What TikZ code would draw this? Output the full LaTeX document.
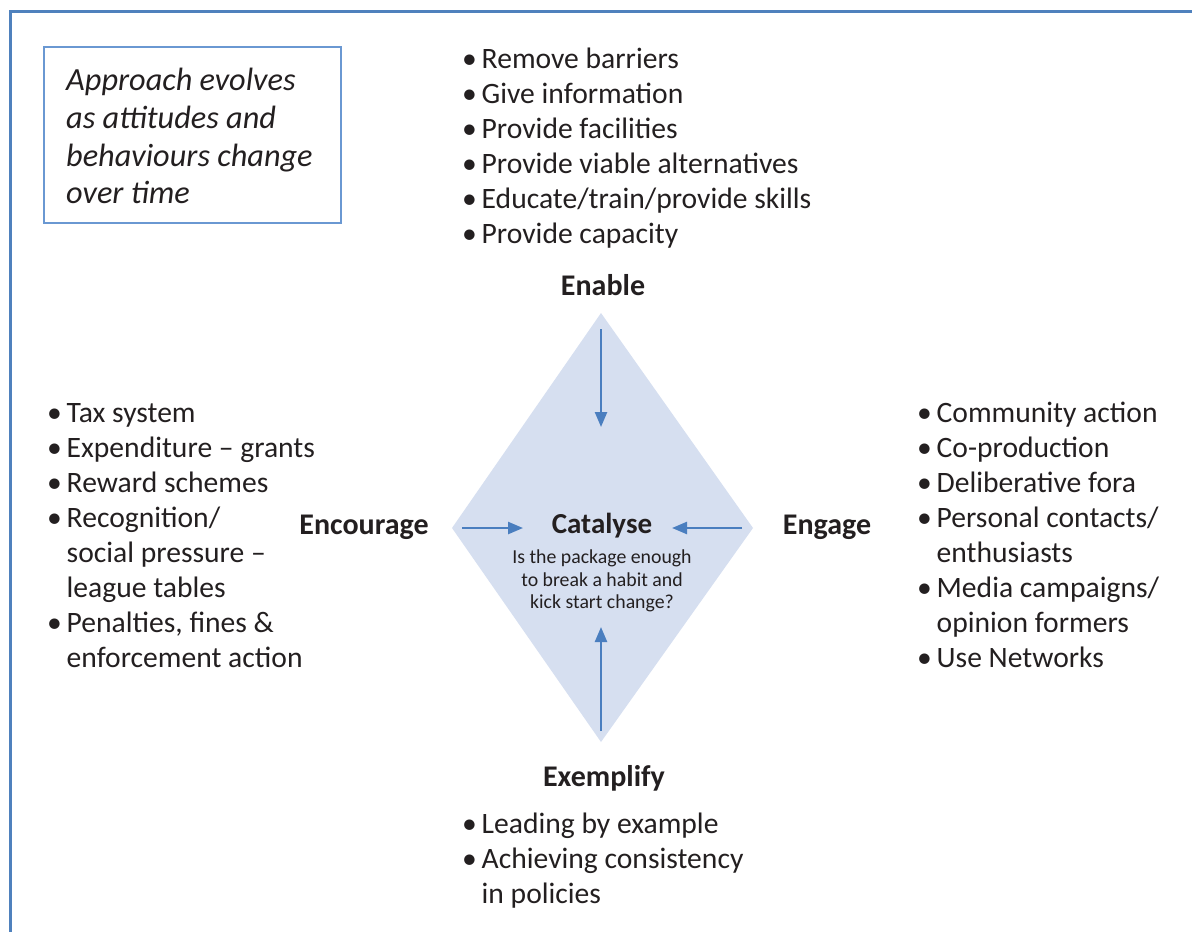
\documentclass[tikz,border=0pt]{standalone}
\usepackage{fontspec}
\setmainfont{Carlito}
\usetikzlibrary{arrows.meta}
\definecolor{ink}{HTML}{231F20}
\definecolor{frameblue}{HTML}{4F81BD}
\definecolor{boxblue}{HTML}{6A98D2}
\definecolor{diafill}{HTML}{D6DFF0}
\definecolor{arrowblue}{HTML}{4A7EBF}
\newcommand{\bul}{\makebox[19.5pt][l]{\textbullet}}
\begin{document}
\begin{tikzpicture}[x=1pt,y=-1pt,
  item/.style={font=\fontsize{29.6}{35}\selectfont, text=ink, inner sep=0pt, anchor=base west},
  head/.style={font=\fontsize{30}{35}\selectfont\bfseries, text=ink, inner sep=0pt, anchor=base},
  sub/.style={font=\fontsize{19.8}{23}\selectfont, text=ink, inner sep=0pt, anchor=base},
  note/.style={font=\fontsize{32.3}{38}\selectfont\itshape, text=ink, inner sep=0pt, anchor=base west},
  flow/.style={draw=arrowblue, line width=2.4pt, -{Triangle[length=15pt,width=12pt]}}]
\useasboundingbox (0,0) rectangle (1192,932);

% outer frame (only top and left edges fall inside the page)
\draw[frameblue, line width=3pt] (1200,11) -- (10,11) -- (10,940);

% note box
\draw[boxblue, line width=1.3pt] (44,47) rectangle (341,223);
\node[note] (n1) at (66,90)  {Approach evolves};
\node[note] (n2) at (66,128) {as attitudes and};
\node[note] (n3) at (66,166) {behaviours change};
\node[note] (n4) at (66,203) {over time};

% central diamond
\coordinate (dT) at (601,313);
\coordinate (dR) at (753,528);
\coordinate (dB) at (601,742);
\coordinate (dL) at (452,528);
\fill[diafill] (dT) -- (dR) -- (dB) -- (dL) -- cycle;

% arrows pointing to the centre
\coordinate (aTs) at (601,329); \coordinate (aTe) at (601,427);
\coordinate (aBs) at (601,731); \coordinate (aBe) at (601,627);
\coordinate (aLs) at (462,528); \coordinate (aLe) at (523,528);
\coordinate (aRs) at (742,528); \coordinate (aRe) at (672,528);
\draw[flow] (aTs) -- (aTe);
\draw[flow] (aBs) -- (aBe);
\draw[flow] (aLs) -- (aLe);
\draw[flow] (aRs) -- (aRe);

% centre text
\node[head, font=\fontsize{29}{34}\selectfont\bfseries] (cat) at (602,533) {Catalyse};
\node[sub] (c1) at (602,563) {Is the package enough};
\node[sub] (c2) at (602,586) {to break a habit and};
\node[sub] (c3) at (602,608) {kick start change?};

% side labels
\node[head] (enable)    at (603,295) {Enable};
\node[head] (exemplify) at (604,786) {Exemplify};
\node[head] (encourage) at (364,534) {Encourage};
\node[head] (engage)    at (827,534) {Engage};

% Enable list
\node[item] (t1) at (462,68)  {\bul Remove barriers};
\node[item] (t2) at (462,103) {\bul Give information};
\node[item] (t3) at (462,138) {\bul Provide facilities};
\node[item] (t4) at (462,173) {\bul Provide viable alternatives};
\node[item] (t5) at (462,208) {\bul Educate/train/provide skills};
\node[item] (t6) at (462,243) {\bul Provide capacity};

% Encourage list
\node[item] (l1) at (47,422) {\bul Tax system};
\node[item] (l2) at (47,457) {\bul Expenditure -- grants};
\node[item] (l3) at (47,492) {\bul Reward schemes};
\node[item] (l4) at (47,527) {\bul Recognition/};
\node[item] (l5) at (66.5,562) {social pressure --};
\node[item] (l6) at (66.5,597) {league tables};
\node[item] (l7) at (47,632) {\bul Penalties, fines \&};
\node[item] (l8) at (66.5,667) {enforcement action};

% Engage list
\node[item] (r1) at (917,422) {\bul Community action};
\node[item] (r2) at (917,457) {\bul Co-production};
\node[item] (r3) at (917,492) {\bul Deliberative fora};
\node[item] (r4) at (917,527) {\bul Personal contacts/};
\node[item] (r5) at (936.5,562) {enthusiasts};
\node[item] (r6) at (917,597) {\bul Media campaigns/};
\node[item] (r7) at (936.5,632) {opinion formers};
\node[item] (r8) at (917,667) {\bul Use Networks};

% Exemplify list
\node[item] (b1) at (462,833) {\bul Leading by example};
\node[item] (b2) at (462,868) {\bul Achieving consistency};
\node[item] (b3) at (481.5,903) {in policies};
\end{tikzpicture}
\end{document}
